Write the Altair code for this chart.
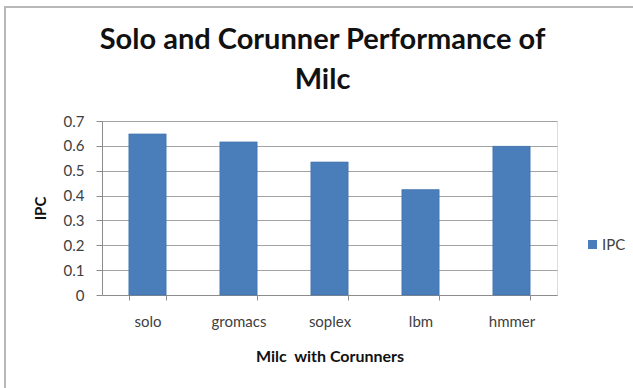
import altair as alt
import pandas as pd

categories = ["solo", "gromacs", "soplex", "lbm", "hmmer"]
ipc_values = [0.648, 0.616, 0.535, 0.424, 0.598]
series_name = ["IPC"] * len(categories)
y_ticks = [0, 0.1, 0.2, 0.3, 0.4, 0.5, 0.6, 0.7]

df = pd.DataFrame({"runner": categories, "IPC": ipc_values, "series": series_name})

FONT = "Lato"

bars = alt.Chart(df).mark_bar(color="#4a7ebb", stroke="#3d6ea9", strokeWidth=0.6).encode(
    x=alt.X(
        "runner:N",
        sort=categories,
        scale=alt.Scale(paddingInner=0.59, paddingOuter=0.295),
        axis=alt.Axis(
            title="Milc\u00a0 with Corunners",
            labelAngle=0,
            tickBand="extent",
            tickSize=5,
            labelPadding=14,
            titlePadding=19,
            domainColor="#8c8c8c",
            tickColor="#8c8c8c",
            labelFont=FONT,
            labelFontSize=15,
            labelColor="#404040",
            titleFont=FONT,
            titleFontSize=16,
            titleFontWeight="bold",
            titleColor="#111111",
        ),
    ),
    y=alt.Y(
        "IPC:Q",
        scale=alt.Scale(domain=[0, 0.7], nice=False),
        axis=alt.Axis(
            title="IPC",
            values=y_ticks,
            labelExpr="datum.value == 0 ? '0' : format(datum.value, '.1f')",
            tickSize=6,
            labelPadding=12,
            titlePadding=15,
            gridColor="#a3a3a3",
            gridWidth=1,
            domainColor="#8c8c8c",
            tickColor="#8c8c8c",
            labelFont=FONT,
            labelFontSize=15,
            labelColor="#404040",
            titleFont=FONT,
            titleFontSize=15,
            titleFontWeight="bold",
            titleColor="#111111",
        ),
    ),
    fill=alt.Fill(
        "series:N",
        scale=alt.Scale(range=["#4a7ebb"]),
        legend=alt.Legend(
            title=None,
            orient="none",
            legendX=483,
            legendY=116,
            symbolType="square",
            symbolSize=81,
            symbolStrokeWidth=0,
            labelFont=FONT,
            labelFontSize=15,
            labelColor="#404040",
            labelOffset=2,
        ),
    ),
)

frame = alt.Chart(pd.DataFrame({"f": [0]})).mark_rect(
    fill=None, stroke="#b8b8b8", strokeWidth=2
).encode(
    x=alt.value(-97), y=alt.value(-114), x2=alt.value(560), y2=alt.value(300)
)

chart = alt.layer(frame, bars).properties(
    width=455,
    height=174,
    title=alt.Title(
        ["Solo and Corunner Performance of", "Milc"],
        font=FONT,
        fontSize=29,
        fontWeight="bold",
        color="#111111",
        anchor="middle",
        dx=-7,
        offset=-89,
        lineHeight=40,
    ),
    padding={"left": 102, "top": 121, "right": 76, "bottom": 93},
    autosize=alt.AutoSizeParams(type="none"),
).configure_view(stroke=None).configure(background="white")

chart.save("out.html", embed_options={"renderer": "svg", "actions": False})
